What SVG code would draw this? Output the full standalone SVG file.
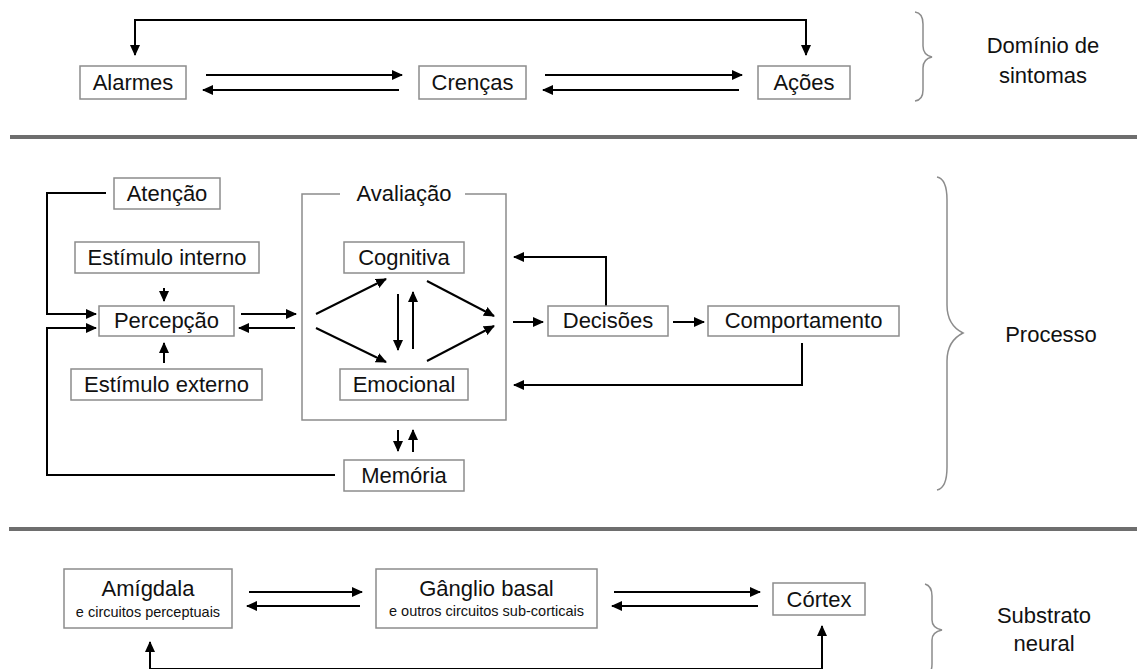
<svg xmlns="http://www.w3.org/2000/svg" width="1137" height="669" viewBox="0 0 1137 669">
<style>
.box{fill:#fff;stroke:#8c8c8c;stroke-width:1.5}
.t{font-family:"Liberation Sans",Arial,sans-serif;font-size:22px;fill:#111;text-anchor:middle}
.s{font-family:"Liberation Sans",Arial,sans-serif;font-size:14.5px;fill:#111;text-anchor:middle}
.c{fill:none;stroke:#000;stroke-width:2}
.ce{marker-end:url(#ah)}
.cb{marker-start:url(#ah);marker-end:url(#ah)}
.br{fill:none;stroke:#8c8c8c;stroke-width:1.5}
.sep{fill:#6e6e6e}
</style>
<defs>
<marker id="ah" markerUnits="userSpaceOnUse" markerWidth="11" markerHeight="11" refX="10" refY="5.5" orient="auto-start-reverse">
<path d="M0,0.5 L11,5.5 L0,10.5 z" fill="#000"/>
</marker>
</defs>
<rect width="1137" height="669" fill="#fff"/>
<rect class="sep" x="10" y="135" width="1127" height="4"/>
<rect class="sep" x="9" y="527" width="1128" height="4"/>

<g id="connectors">
<path class="c cb" d="M135,55 L135,20 L806,20 L806,55"/>
<path class="c ce" d="M206,75 L402,75"/>
<path class="c ce" d="M399,90 L203,90"/>
<path class="c ce" d="M545,75 L742,75"/>
<path class="c ce" d="M739,90 L543,90"/>

<path class="c ce" d="M106,193 L47,193 L47,314 L96,314"/>
<path class="c ce" d="M335,475 L47,475 L47,328 L96,328"/>
<path class="c ce" d="M164,288 L164,301"/>
<path class="c ce" d="M164,363 L164,343"/>
<path class="c ce" d="M241,314 L296,314"/>
<path class="c ce" d="M295,328 L239,328"/>
<path class="c ce" d="M316,314 L386,279"/>
<path class="c ce" d="M316,328 L386,362"/>
<path class="c ce" d="M398,294 L398,350"/>
<path class="c ce" d="M413,349 L413,292"/>
<path class="c ce" d="M427,281 L494,316"/>
<path class="c ce" d="M427,361 L494,326"/>
<path class="c ce" d="M398,430 L398,451"/>
<path class="c ce" d="M413,452 L413,430"/>
<path class="c ce" d="M513,322 L543,322"/>
<path class="c ce" d="M673,322 L704,322"/>
<path class="c ce" d="M606,306 L606,257 L514,257"/>
<path class="c ce" d="M802,343 L802,385 L514,385"/>

<path class="c ce" d="M249,592 L362,592"/>
<path class="c ce" d="M360,606 L247,606"/>
<path class="c ce" d="M614,592 L760,592"/>
<path class="c ce" d="M758,606 L612,606"/>
<path class="c cb" d="M150,642 L150,669 L822,669 L822,626"/>
</g>

<g id="alarmes"><rect class="box" x="80" y="66" width="106" height="33"/><text class="t" x="133" y="90">Alarmes</text></g>
<g id="crencas"><rect class="box" x="419" y="66" width="107" height="33"/><text class="t" x="472.5" y="90">Crenças</text></g>
<g id="acoes"><rect class="box" x="758" y="66" width="92" height="33"/><text class="t" x="804" y="90">Ações</text></g>
<g id="dominio">
<path class="br" d="M915,12 Q923,13 923,24 L923,46 Q923,55 932,57 Q923,59 923,68 L923,90 Q923,100 915,101"/>
<text class="t" x="1043" y="53">Domínio de</text>
<text class="t" x="1043" y="83">sintomas</text>
</g>

<g id="atencao"><rect class="box" x="114" y="178" width="106" height="31"/><text class="t" x="167" y="201">Atenção</text></g>
<g id="estimulo-interno"><rect class="box" x="75" y="242" width="184" height="31"/><text class="t" x="167" y="265">Estímulo interno</text></g>
<g id="percepcao"><rect class="box" x="99" y="306" width="135" height="30"/><text class="t" x="166.5" y="328">Percepção</text></g>
<g id="estimulo-externo"><rect class="box" x="71" y="369" width="191" height="31"/><text class="t" x="166.5" y="392">Estímulo externo</text></g>
<g id="avaliacao">
<path class="br" d="M340,194 L302,194 L302,420 L506,420 L506,194 L465,194"/>
<text class="t" x="404" y="201">Avaliação</text>
</g>
<g id="cognitiva"><rect class="box" x="344" y="242" width="120" height="31"/><text class="t" x="404" y="265">Cognitiva</text></g>
<g id="emocional"><rect class="box" x="340" y="369" width="128" height="31"/><text class="t" x="404" y="392">Emocional</text></g>
<g id="memoria"><rect class="box" x="344" y="460" width="120" height="31"/><text class="t" x="404" y="483">Memória</text></g>
<g id="decisoes"><rect class="box" x="548" y="306" width="120" height="30"/><text class="t" x="608" y="328">Decisões</text></g>
<g id="comportamento"><rect class="box" x="708" y="306" width="191" height="30"/><text class="t" x="803.5" y="328">Comportamento</text></g>
<g id="processo">
<path class="br" d="M937,177 Q947,179 947,200 L947,305 Q947,325 963,333 Q947,341 947,361 L947,467 Q947,488 937,490"/>
<text class="t" x="1051" y="342">Processo</text>
</g>

<g id="amigdala"><rect class="box" x="64" y="569" width="168" height="59"/><text class="t" x="148" y="596">Amígdala</text><text class="s" x="148" y="617">e circuitos perceptuais</text></g>
<g id="ganglio"><rect class="box" x="376" y="569" width="221" height="59"/><text class="t" x="486.5" y="596">Gânglio basal</text><text class="s" x="486.5" y="616">e outros circuitos sub-corticais</text></g>
<g id="cortex"><rect class="box" x="773" y="583" width="92" height="32"/><text class="t" x="819" y="607">Córtex</text></g>
<g id="substrato">
<path class="br" d="M925,584 Q932,586 932,596 L932,620 Q932,628 942,630 Q932,632 932,640 L932,664 Q932,674 925,676"/>
<text class="t" x="1044" y="623">Substrato</text>
<text class="t" x="1044" y="651">neural</text>
</g>
</svg>
